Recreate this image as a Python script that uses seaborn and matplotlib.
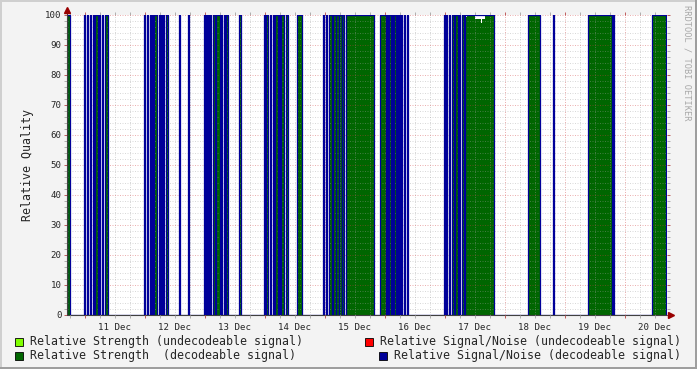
import numpy as np
import matplotlib
matplotlib.use("Agg")
import matplotlib.pyplot as plt
from matplotlib.patches import Rectangle
from matplotlib.ticker import MultipleLocator, FuncFormatter
import seaborn as sns

# time axis in hours since 10 Dec 00:00
x_start, x_end = 16.8, 256.8
day_labels = ["11 Dec", "12 Dec", "13 Dec", "14 Dec", "15 Dec",
              "16 Dec", "17 Dec", "18 Dec", "19 Dec", "20 Dec"]
day_noon = [36, 60, 84, 108, 132, 156, 180, 204, 228, 252]

# periods with a decodeable signal (start, end) in hours
signal_on = [
    (16.6, 17.8),
    (23.4, 23.8), (24.6, 25.0), (25.8, 26.2), (27.0, 27.4), (27.8, 29.0),
    (29.4, 29.8), (30.6, 31.0), (31.8, 33.0),
    (47.4, 47.8), (48.6, 49.0), (49.8, 50.2), (50.6, 51.0), (51.4, 52.6),
    (53.4, 53.8), (54.2, 54.6), (55.0, 55.4), (56.2, 57.0),
    (61.4, 61.8), (65.0, 65.4),
    (71.4, 71.8), (72.2, 72.6), (73.0, 73.4), (73.8, 74.2), (75.0, 75.8),
    (76.2, 77.8), (78.2, 78.6), (79.4, 79.8), (80.4, 81.2),
    (85.4, 86.2),
    (95.4, 95.8), (96.2, 97.0), (97.8, 98.2), (99.0, 99.4), (99.8, 101.0),
    (101.4, 101.8), (102.2, 103.4), (104.2, 105.0),
    (108.6, 110.6),
    (119.2, 119.6), (120.2, 120.6), (121.4, 122.8), (123.0, 124.2),
    (124.4, 125.4), (125.6, 126.6), (126.8, 127.6), (128.2, 139.4),
    (141.8, 144.2), (144.6, 145.0), (145.4, 146.2), (146.6, 147.0),
    (147.4, 148.2), (148.6, 149.0), (149.4, 149.8), (150.2, 150.6),
    (151.4, 151.8), (152.6, 153.0),
    (167.4, 167.8), (168.4, 168.8), (169.6, 170.0), (170.8, 171.4),
    (172.0, 173.0), (173.6, 174.0), (174.6, 175.4), (176.0, 187.4),
    (201.0, 205.8),
    (211.0, 211.4),
    (225.0, 234.6), (235.0, 235.4),
    (250.6, 256.2),
]
# short drops of the relative strength (start, end, value)
strength_dips = [(176.4, 176.8, 99.3), (180.0, 182.4, 98.6),
                 (182.4, 182.8, 97.2), (182.8, 184.0, 98.6)]

legend_labels = ["Relative Strength (undecodeable signal)",
                 "Relative Strength  (decodeable signal)",
                 "Relative Signal/Noise (undecodeable signal)",
                 "Relative Signal/Noise (decodeable signal)"]
legend_colors = ["#80ff00", "#006600", "#ff0000", "#000099"]


def step_series(periods, dips=()):
    xs, ys = [x_start - 1], [0.0]
    for s, e in periods:
        xs.append(s)
        ys.append(100.0)
        for ds, de, dv in sorted(d for d in dips if s <= d[0] < e):
            xs += [ds, de]
            ys += [dv, 100.0]
        xs.append(e)
        ys.append(0.0)
    xs.append(x_end + 1)
    ys.append(0.0)
    return np.array(xs), np.array(ys)


sns.set_style("white")
plt.rcParams['font.family'] = ['DejaVu Sans Mono']

W, H = 697, 369
fig = plt.figure(figsize=(W / 100, H / 100), dpi=100, facecolor="#f3f3f3")
ax = fig.add_axes([67 / W, 1 - 315 / H, 600 / W, 300 / H])
ax.set_facecolor("white")

xs_str, ys_str = step_series(signal_on, strength_dips)
xs_sn, ys_sn = step_series(signal_on)

ax.fill_between(xs_str, ys_str, step="post", color="#006600", lw=0, zorder=1)
sns.lineplot(x=xs_sn, y=ys_sn, estimator=None, sort=False, drawstyle="steps-post",
             color="#000099", lw=0.9, ax=ax, zorder=3)

ax.set_xlim(x_start, x_end)
ax.set_ylim(0, 100)

ax.xaxis.set_major_locator(MultipleLocator(24))
ax.xaxis.set_minor_locator(MultipleLocator(6))
ax.xaxis.set_major_formatter(FuncFormatter(lambda v, p: ""))
lab = dict(zip(day_noon, day_labels))
ax.xaxis.set_minor_formatter(FuncFormatter(lambda v, p: lab.get(int(round(v)), "")))
ax.yaxis.set_major_locator(MultipleLocator(10))
ax.yaxis.set_minor_locator(MultipleLocator(2))

ax.set_axisbelow(False)
ax.grid(which="minor", color="#a0a0a0", alpha=0.4, lw=0.72, ls=(0, (1, 1.5)))
ax.grid(which="major", color="#d04040", alpha=0.4, lw=0.72, ls=(0, (1, 1.5)))

ax.tick_params(which="both", direction="out", length=2, width=0.72,
               left=True, right=True, top=True, bottom=True,
               labelsize=6.6, pad=2)
ax.tick_params(which="major", color="#c06060")
ax.tick_params(which="minor", color="#b0b0b0")
ax.tick_params(axis="x", which="minor", pad=4)

for s in ax.spines.values():
    s.set_visible(False)

ax.set_ylabel("Relative Quality", fontsize=8.4, labelpad=8)
ax.set_xlabel("")

# axis lines with arrows
ax.plot([0, 0], [0, 1.0167], transform=ax.transAxes, color="#404040", lw=0.8,
        clip_on=False, zorder=4)
ax.plot([0, 1.005], [0, 0], transform=ax.transAxes, color="#404040", lw=0.8,
        clip_on=False, zorder=2)
ax.plot([0], [1.0167], marker="^", ms=5, color="#990000", transform=ax.transAxes,
        clip_on=False, zorder=5)
ax.plot([1.0067], [0], marker=">", ms=5, color="#990000", transform=ax.transAxes,
        clip_on=False, zorder=5)

# legend
leg_pos = [(15, 30, 341.5), (15, 30, 355.5), (365, 380, 341.5), (379, 394, 355.5)]
for (bx, tx, cy), text, col in zip(leg_pos, legend_labels, legend_colors):
    fig.patches.append(Rectangle((bx / W, 1 - (cy + 4) / H), 8 / W, 8 / H,
                                 transform=fig.transFigure, facecolor=col,
                                 edgecolor="black", lw=0.6))
    fig.text(tx / W, 1 - cy / H, text, fontsize=8.4, va="center", ha="left")

fig.text(687 / W, 1 - 5 / H, "RRDTOOL / TOBI OETIKER", rotation=270,
         fontsize=6.2, color="#a8a8a8", ha="center", va="top")

# frame shading
fig.patches.append(Rectangle((0, 0), 2 / W, 1, transform=fig.transFigure,
                             color="#cfcfcf", lw=0))
fig.patches.append(Rectangle((0, 1 - 2 / H), 1, 2 / H, transform=fig.transFigure,
                             color="#cfcfcf", lw=0))
fig.patches.append(Rectangle((1 - 2 / W, 0), 2 / W, 1, transform=fig.transFigure,
                             color="#9e9e9e", lw=0))
fig.patches.append(Rectangle((0, 0), 1, 2 / H, transform=fig.transFigure,
                             color="#9e9e9e", lw=0))

fig.savefig("out.png", dpi=100, facecolor=fig.get_facecolor())
